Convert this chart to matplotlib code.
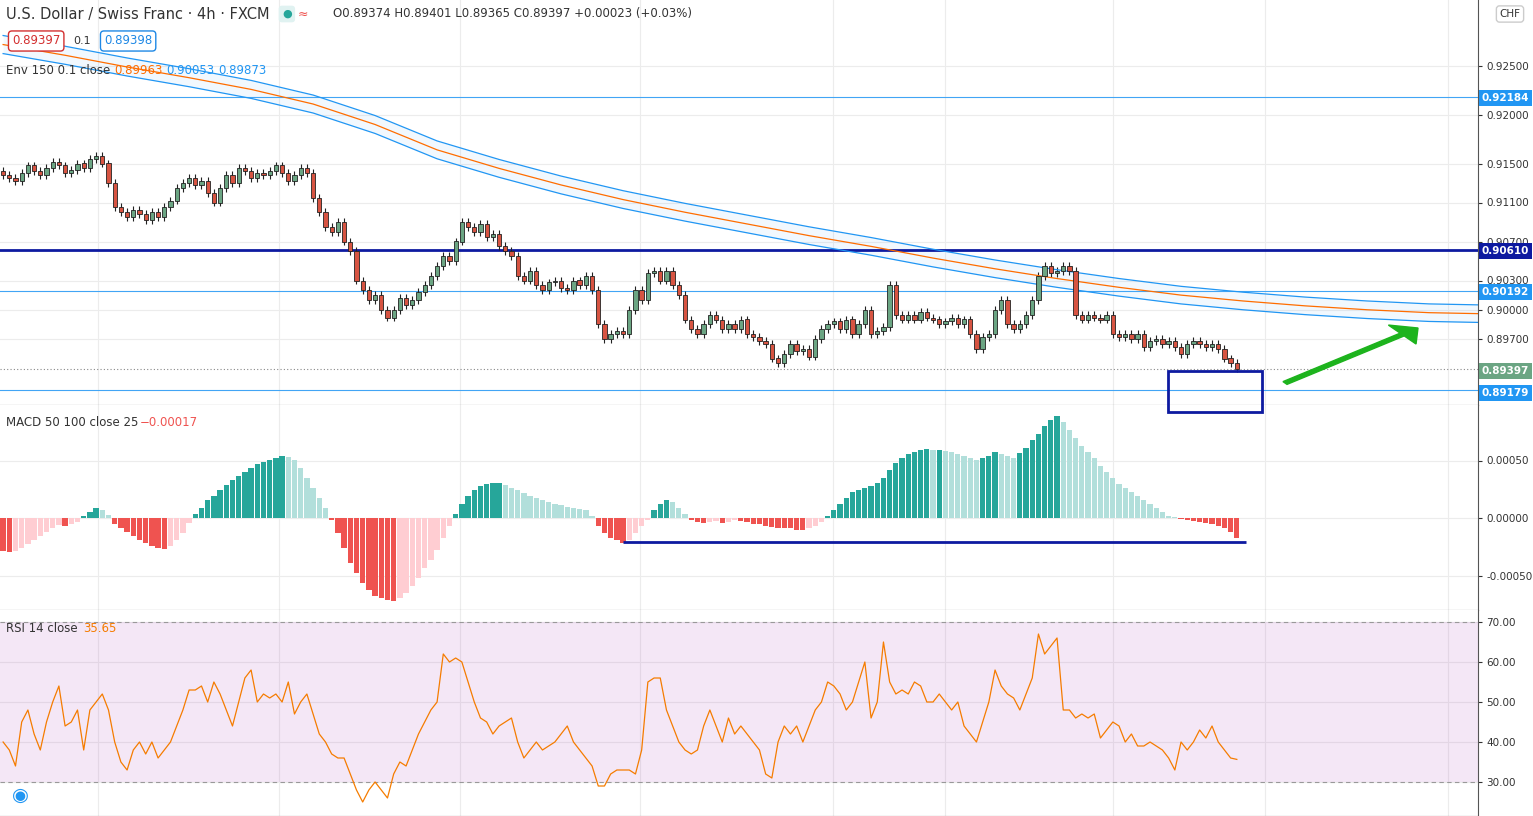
import matplotlib
matplotlib.use("Agg")
import matplotlib.pyplot as plt
import numpy as np
from matplotlib.patches import Rectangle, FancyArrow

closes = [
0.9138,0.9135,0.9132,0.9140,0.9148,0.9142,0.9138,0.9145,0.9152,0.9148,
0.9140,0.9143,0.9150,0.9145,0.9155,0.9158,0.9150,0.9130,0.9105,0.9100,
0.9095,0.9102,0.9098,0.9092,0.9100,0.9095,0.9105,0.9112,0.9125,0.9130,
0.9135,0.9128,0.9132,0.9120,0.9110,0.9125,0.9138,0.9130,0.9145,0.9142,
0.9135,0.9140,0.9138,0.9142,0.9148,0.9140,0.9132,0.9138,0.9145,0.9140,
0.9115,0.9100,0.9085,0.9080,0.9090,0.9070,0.9060,0.9030,0.9020,0.9010,
0.9015,0.9000,0.8992,0.9000,0.9012,0.9005,0.9010,0.9018,0.9025,0.9035,
0.9045,0.9055,0.9050,0.9070,0.9090,0.9085,0.9080,0.9088,0.9075,0.9078,
0.9065,0.9060,0.9055,0.9035,0.9030,0.9040,0.9025,0.9020,0.9028,0.9030,
0.9022,0.9020,0.9030,0.9025,0.9035,0.9020,0.8985,0.8970,0.8975,0.8978,
0.8975,0.9000,0.9020,0.9010,0.9038,0.9040,0.9030,0.9040,0.9025,0.9015,
0.8990,0.8980,0.8975,0.8985,0.8995,0.8990,0.8980,0.8985,0.8980,0.8990,
0.8975,0.8972,0.8968,0.8965,0.8950,0.8945,0.8955,0.8965,0.8958,0.8960,
0.8952,0.8970,0.8980,0.8985,0.8988,0.8980,0.8990,0.8975,0.8985,0.9000,
0.8975,0.8978,0.8982,0.9025,0.8995,0.8990,0.8995,0.8990,0.8998,0.8992,
0.8990,0.8985,0.8988,0.8992,0.8985,0.8990,0.8975,0.8960,0.8972,0.8975,
0.9000,0.9010,0.8985,0.8980,0.8985,0.8995,0.9010,0.9035,0.9045,0.9038,
0.9040,0.9045,0.9040,0.8995,0.8990,0.8995,0.8992,0.8990,0.8995,0.8975,
0.8972,0.8975,0.8970,0.8975,0.8962,0.8968,0.8970,0.8965,0.8968,0.8962,
0.8955,0.8965,0.8968,0.8965,0.8962,0.8965,0.8960,0.8950,0.8945,0.89397]
first_open = 0.9142
wick = 0.0004

env_idx = [0,10,20,30,40,50,60,70,80,90,100,110,120,130,140,150,160,170,180,190,200,210,220,230,238]
env_mid = [0.9272,0.9261,0.9249,0.9238,0.9226,0.9211,0.9190,0.9164,0.9145,0.9128,0.9113,0.9100,0.9088,
           0.9076,0.9065,0.9053,0.9042,0.9032,0.9023,0.9015,0.9009,0.9004,0.9000,0.8997,0.8996]

macd_px = [
-33,-34,-33,-30,-26,-22,-18,-14,-10,-7,
-8,-6,-4,2,6,10,8,3,-6,-10,
-14,-18,-22,-25,-28,-30,-31,-28,-22,-15,
-5,4,10,18,22,28,33,38,42,46,
50,54,56,58,60,62,61,58,50,40,
30,20,10,-2,-15,-30,-45,-55,-65,-72,
-78,-80,-82,-83,-80,-75,-68,-60,-50,-42,
-32,-20,-8,4,14,22,28,32,34,35,
35,33,30,28,25,22,20,18,16,14,
13,11,10,9,8,2,-8,-15,-20,-22,
-25,-22,-15,-8,-2,8,14,18,16,10,
4,-2,-4,-5,-4,-3,-5,-4,-2,-3,
-4,-6,-6,-8,-9,-10,-10,-10,-12,-12,
-10,-8,-4,2,8,14,20,26,28,30,
32,35,40,48,55,60,64,66,68,69,
68,68,67,66,64,62,60,58,60,62,
66,64,62,60,65,70,78,84,92,98,
102,96,88,80,72,66,60,52,46,40,
34,30,26,22,18,14,10,6,2,1,
-1,-2,-3,-4,-5,-6,-8,-10,-14,-20]
macd_hist = [v * 0.0005 / 57.5 for v in macd_px]

rsi = [
40,38,34,45,48,42,38,45,50,54, 44,45,48,38,48,50,52,48,40,35,
33,38,40,37,40,36,38,40,44,48, 53,53,54,50,55,52,48,44,50,56,
58,50,52,51,52,50,55,47,50,52, 47,42,40,37,36,36,32,28,25,28,
30,28,26,32,35,34,38,42,45,48, 50,62,60,61,60,55,50,46,45,42,
44,45,46,40,36,38,40,38,39,40, 42,44,40,38,36,34,29,29,32,33,
33,33,32,38,55,56,56,48,44,40, 38,37,38,44,48,44,40,46,42,44,
42,40,38,32,31,40,44,42,44,40, 44,48,50,55,54,52,48,50,55,60,
46,50,65,55,52,53,52,55,54,50, 50,52,50,48,50,44,42,40,45,50,
58,54,52,51,48,52,56,67,62,64, 66,48,48,46,47,46,47,41,43,45,
44,40,42,39,39,40,39,38,36,33, 40,38,40,43,41,44,40,38,36,35.65]

hlines = [(0.92184, "#42a5f5", 0.8), (0.90610, "#0d1aa0", 2.0), (0.90192, "#42a5f5", 0.8), (0.89179, "#42a5f5", 0.8)]
price_ticks = [0.92500, 0.92000, 0.91500, 0.91100, 0.90700, 0.90300, 0.90000, 0.89700]
macd_ticks = [0.0005, 0.0, -0.0005]
rsi_ticks = [30, 40, 50, 60, 70]
vgrid = [15.3, 44.5, 73.7, 102.7, 133.9, 152, 179, 203.5, 233]

W, H = 1533, 816
fig = plt.figure(figsize=(W/100, H/100), dpi=100)
fig.patch.set_facecolor("white")
AW = 1478 / W
XL = (-0.5, 237.9)

def mk(top, bot):
    ax = fig.add_axes([0, (H-bot)/H, AW, (bot-top)/H])
    ax.set_xlim(*XL)
    ax.yaxis.tick_right()
    ax.tick_params(axis='y', length=3, labelsize=7.5, colors="#333333", pad=3)
    ax.tick_params(axis='x', length=0, labelbottom=False)
    for s in ["top", "left"]:
        ax.spines[s].set_visible(False)
    ax.spines["right"].set_color("#555555")
    ax.spines["bottom"].set_color("#555555")
    ax.set_xticks(vgrid)
    ax.grid(True, color="#ececec", lw=0.8)
    ax.set_axisbelow(True)
    return ax

# main
ax = mk(0, 405)
p_top = 0.925 + 66/9750
p_bot = 0.925 - (405-66)/9750
ax.set_ylim(p_bot, p_top)
ax.set_yticks(price_ticks)
ax.set_yticklabels([f"{t:.5f}" for t in price_ticks])
n = len(closes)
idx = np.arange(n)
opens = [first_open] + closes[:-1]
for i in range(n):
    o, c = opens[i], closes[i]
    up = c >= o
    col = "#6ba583" if up else "#d75442"
    lo, hi = min(o, c), max(o, c)
    ax.vlines(i, lo - wick, hi + wick, color="#222222", lw=0.8, zorder=2)
    ax.add_patch(Rectangle((i-0.35, lo), 0.7, max(hi-lo, 0.00004), facecolor=col, edgecolor="#222222", lw=0.6, zorder=3))
mid = np.array(env_mid)
ax.fill_between(env_idx, mid*1.001, mid*0.999, color="#2196f3", alpha=0.06, lw=0)
ax.plot(env_idx, mid*1.001, color="#2196f3", lw=0.9)
ax.plot(env_idx, mid*0.999, color="#2196f3", lw=0.9)
ax.plot(env_idx, mid, color="#ff6d00", lw=0.9)
for y, c, lw in hlines:
    ax.axhline(y, color=c, lw=lw, zorder=1)
ax.axhline(closes[-1], color="#888888", lw=0.8, ls=(0, (1, 2)))

def rlabel(y_px, txt, bg, fg="white"):
    fig.text(1482/W, 1 - y_px/H, txt, fontsize=7.5, color=fg, fontweight="bold", va="center", ha="left",
             bbox=dict(boxstyle="square,pad=0.25", fc=bg, ec="none"))
rlabel(98, "0.92184", "#2196f3")
rlabel(251, "0.90610", "#0d1aa0")
rlabel(292, "0.90192", "#2196f3")
rlabel(371, "0.89397", "#6ba583")
rlabel(393, "0.89179", "#2196f3")
fig.text(1510/W, 1-14/H, "CHF", fontsize=7.5, color="#333", va="center", ha="center",
         bbox=dict(boxstyle="round,pad=0.3", fc="white", ec="#cccccc"))

# header
fig.text(6/W, 1-14/H, "U.S. Dollar / Swiss Franc · 4h · FXCM", fontsize=10.5, color="#333", va="center")
fig.text(282/W, 1-14/H, "●", fontsize=8, color="#26a69a", va="center",
         bbox=dict(boxstyle="round,pad=0.3", fc="#e0f2f1", ec="none"))
fig.text(298/W, 1-14/H, "≈", fontsize=9, color="#ef5350", va="center")
fig.text(333/W, 1-14/H, "O0.89374 H0.89401 L0.89365 C0.89397 +0.00023 (+0.03%)", fontsize=8.5, color="#333", va="center")
fig.text(12/W, 1-41/H, "0.89397", fontsize=8.5, color="#d32f2f", va="center",
         bbox=dict(boxstyle="round,pad=0.3", fc="white", ec="#d32f2f"))
fig.text(73/W, 1-41/H, "0.1", fontsize=8, color="#333", va="center")
fig.text(104/W, 1-41/H, "0.89398", fontsize=8.5, color="#1e88e5", va="center",
         bbox=dict(boxstyle="round,pad=0.3", fc="white", ec="#1e88e5"))
fig.text(6/W, 1-70/H, "Env 150 0.1 close", fontsize=8.5, color="#333", va="center")
fig.text(114/W, 1-70/H, "0.89963", fontsize=8.5, color="#ff6d00", va="center")
fig.text(166/W, 1-70/H, "0.90053", fontsize=8.5, color="#2196f3", va="center")
fig.text(218/W, 1-70/H, "0.89873", fontsize=8.5, color="#2196f3", va="center")

# MACD
ax2 = mk(405, 610)
ax2.set_ylim(-(610-518)*0.0005/57.5, (518-405)*0.0005/57.5)
ax2.set_yticks(macd_ticks)
ax2.set_yticklabels(["0.00050", "0.00000", "-0.00050"])
cols = []
for i, v in enumerate(macd_hist):
    prev = macd_hist[i-1] if i > 0 else v
    if v >= 0:
        cols.append("#26a69a" if v >= prev else "#b2dfdb")
    else:
        cols.append("#ef5350" if v <= prev else "#ffcdd2")
ax2.bar(idx, macd_hist, width=0.85, color=cols, lw=0)
ax2.hlines(-0.00021, 100, 200.5, color="#0d1aa0", lw=2)
fig.text(6/W, 1-422/H, "MACD 50 100 close 25", fontsize=8.5, color="#333", va="center")
fig.text(140/W, 1-422/H, "\u22120.00017", fontsize=8.5, color="#ef5350", va="center")

# RSI
ax3 = mk(610, 816)
ax3.set_ylim(70 - (816-622)/4, 70 + (622-610)/4)
ax3.set_yticks(rsi_ticks)
ax3.set_yticklabels([f"{t:.2f}" for t in rsi_ticks])
ax3.axhspan(30, 70, color="#9c27b0", alpha=0.11, lw=0)
ax3.axhline(70, color="#999", lw=0.8, ls=(0, (4, 3)))
ax3.axhline(30, color="#999", lw=0.8, ls=(0, (4, 3)))
ax3.plot(idx, rsi, color="#f57c00", lw=0.9)
fig.text(6/W, 1-629/H, "RSI 14 close", fontsize=8.5, color="#333", va="center")
fig.text(83/W, 1-629/H, "35.65", fontsize=8.5, color="#f57c00", va="center")
fig.text(20/W, 1-795/H, "◉", fontsize=14, color="#2196f3", va="center", ha="center")

# annotations
fig.patches.append(Rectangle((1168/W, 1-412/H), 94/W, 41/H, transform=fig.transFigure,
                             fill=False, ec="#0d1aa0", lw=2))
fig.patches.append(FancyArrow(1285/W, 1-383/H, 133/W, 55/H, width=3.5/H, head_width=24/H,
                              head_length=20/W, length_includes_head=True, transform=fig.transFigure,
                              color="#1db31d"))

fig.savefig("out.png", dpi=100)
